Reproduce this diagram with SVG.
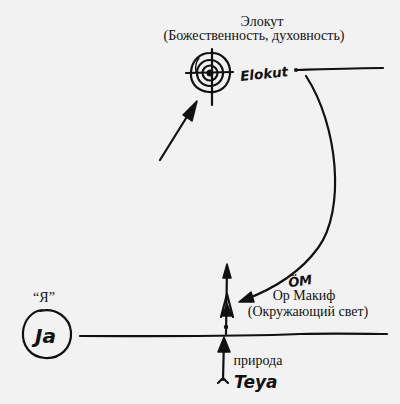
<svg xmlns="http://www.w3.org/2000/svg" width="400" height="404" viewBox="0 0 400 404">
<style>
.ink{fill:none;stroke:#111;stroke-width:2.2;stroke-linecap:round;stroke-linejoin:round}
.fillink{fill:#111;stroke:#111;stroke-width:1.5;stroke-linejoin:round}
.lbl{font-family:"Liberation Serif",serif;font-size:14px;fill:#111}
.hand{font-family:"DejaVu Sans",sans-serif;font-style:italic;font-weight:bold;fill:#111}
</style>
<rect width="400" height="404" fill="#f2f2f2"/>
<g id="elokut">
<text class="lbl" x="262" y="26" text-anchor="middle">Элокут</text>
<text class="lbl" x="254" y="40" text-anchor="middle">(Божественность, духовность)</text>
<g class="ink">
<path d="M210,53 C222,52 231,62 230,74 C229,86 220,93 209,92 C197,91 190,83 191,72 C192,60 200,53 210,53 Z"/>
<circle cx="210" cy="73" r="13"/>
<circle cx="210" cy="73" r="7.5"/>
<path d="M186,73 L233,72"/>
<path d="M212,49 L212,105"/>
<path d="M199,58 C196,62 195,67 196,72" stroke-width="1.4"/>
</g>
<circle cx="210" cy="73" r="3.5" fill="#111"/>
<text class="hand" x="240" y="79" font-size="13.5" transform="rotate(-6 260 74)">Elokut</text>
<circle cx="296" cy="70" r="2" fill="#111"/>
<path class="ink" d="M297,70 C330,69 360,68 383,68"/>
</g>
<g id="ja">
<text class="lbl" x="44" y="302" text-anchor="middle">“Я”</text>
<path class="ink" d="M40,311 C56,307 70,318 71,332 C72,348 60,359 45,358 C30,357 22,345 23,332 C24,320 32,311 42,310"/>
<text class="hand" x="35" y="343" font-size="20" font-weight="normal">Ja</text>
</g>
<g id="or-makif">
<text class="hand" x="288" y="286" font-size="13" transform="rotate(-8 297 280)">ÖM</text>
<text class="lbl" x="304" y="300" text-anchor="middle">Ор Макиф</text>
<text class="lbl" x="308" y="316" text-anchor="middle">(Окружающий свет)</text>
</g>
<g id="priroda">
<text class="lbl" x="258" y="365" text-anchor="middle">природа</text>
<text class="hand" x="234" y="388" font-size="17" font-weight="normal">Teya</text>
</g>
<g id="connectors">
<path class="ink" d="M80,336 C150,336 230,337 300,334 C340,333 370,334 387,334"/>
<path class="ink" d="M160,160 L193,107"/>
<path class="fillink" d="M197,101 L192,121 L183,115 Z"/>
<path class="ink" d="M306,76 C338,125 346,210 318,248 C302,270 276,288 244,300"/>
<path class="fillink" d="M239,302 L251,292 L254,302 Z"/>
<path class="ink" d="M227,268 L226,334"/>
<path class="fillink" d="M227,264 L231,278 L223,278 Z"/>
<path class="ink" d="M221,317 L227,294 L233,317"/>
<path class="fillink" d="M227,304 L232,316 L222,316 Z"/>
<circle cx="226" cy="327" r="2.2" fill="#111"/>
<path class="ink" d="M224,339 L223,380"/>
<path class="fillink" d="M224,337 L230,352 L218,352 Z"/>
<path class="ink" d="M218,383 L223,378 L228,383"/>
</g>
</svg>
